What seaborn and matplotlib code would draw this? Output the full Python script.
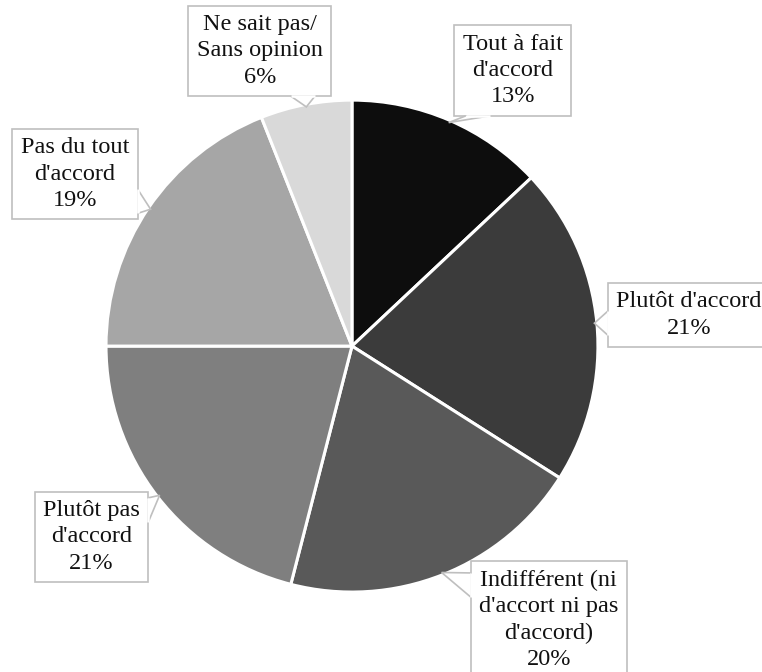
import numpy as np
import matplotlib
matplotlib.use("Agg")
import matplotlib.pyplot as plt
from matplotlib.patches import Polygon
import seaborn as sns

# Survey answers, clockwise from the top
categories = [
    "Tout à fait\nd'accord",
    "Plutôt d'accord",
    "Indifférent (ni\nd'accort ni pas\nd'accord)",
    "Plutôt pas\nd'accord",
    "Pas du tout\nd'accord",
    "Ne sait pas/\nSans opinion",
]
shares = [13, 21, 20, 21, 19, 6]
slice_colors = ["#0d0d0d", "#3b3b3b", "#595959", "#7f7f7f", "#a6a6a6", "#d9d9d9"]

# Callout box centres (pie radius = 1)
label_pos = [
    (0.654, 1.120),
    (1.370, 0.126),
    (0.800, -1.114),
    (-1.059, -0.776),
    (-1.126, 0.699),
    (-0.374, 1.200),
]

EDGE = "#bfbfbf"

sns.set_theme(style="white")
plt.rcParams["font.family"] = ["Liberation Serif", "DejaVu Serif"]

fig = plt.figure(figsize=(7.62, 6.72), dpi=100)
ax = fig.add_axes([0, 0, 1, 1])

wedges, _ = ax.pie(
    shares,
    colors=slice_colors,
    startangle=90,
    counterclock=False,
    radius=1.0,
    center=(0, 0),
    wedgeprops=dict(edgecolor="white", linewidth=2.2),
)

ax.set_xlim(-1.431, 1.667)
ax.set_ylim(-1.325, 1.407)
ax.set_aspect("auto")
ax.axis("off")

total = sum(shares)
texts, tips = [], []
for w, cat, val, (lx, ly) in zip(wedges, categories, shares, label_pos):
    mid = np.deg2rad((w.theta1 + w.theta2) / 2)
    tips.append((0.99 * np.cos(mid), 0.99 * np.sin(mid)))
    t = ax.text(
        lx, ly, f"{cat}\n{round(100 * val / total)}%",
        ha="center", va="center", fontsize=17.5, color="#111111",
        linespacing=1.33, zorder=5, clip_on=False,
        bbox=dict(boxstyle="square,pad=0.35", facecolor="white",
                  edgecolor=EDGE, linewidth=1.2),
    )
    texts.append(t)

# Callout pointers: a triangle from the box side facing the slice rim
fig.canvas.draw()
to_data = ax.transData.inverted()
base_half = 12  # px
for t, tip in zip(texts, tips):
    ext = t.get_bbox_patch().get_window_extent()
    x0, y0, x1, y1 = ext.x0, ext.y0, ext.x1, ext.y1
    tx, ty = ax.transData.transform(tip)
    if ty < y0 or ty > y1:
        ey = y0 if ty < y0 else y1
        m = 0.2 * (x1 - x0)
        c = np.clip(tx, x0 + m, x1 - m)
        a, b = (c - base_half, ey), (c + base_half, ey)
    else:
        ex = x0 if tx < x0 else x1
        m = 0.2 * (y1 - y0)
        c = np.clip(ty, y0 + m, y1 - m)
        a, b = (ex, c - base_half), (ex, c + base_half)
    pts = to_data.transform([a, (tx, ty), b])
    ax.add_patch(Polygon(pts, closed=False, facecolor="white", edgecolor=EDGE,
                         linewidth=1.2, zorder=6, clip_on=False))
    # hide the box border where the pointer joins it
    ax.plot([pts[0][0], pts[2][0]], [pts[0][1], pts[2][1]], color="white",
            linewidth=1.8, zorder=6.5, solid_capstyle="butt", clip_on=False)

fig.savefig("out.png", dpi=100)
